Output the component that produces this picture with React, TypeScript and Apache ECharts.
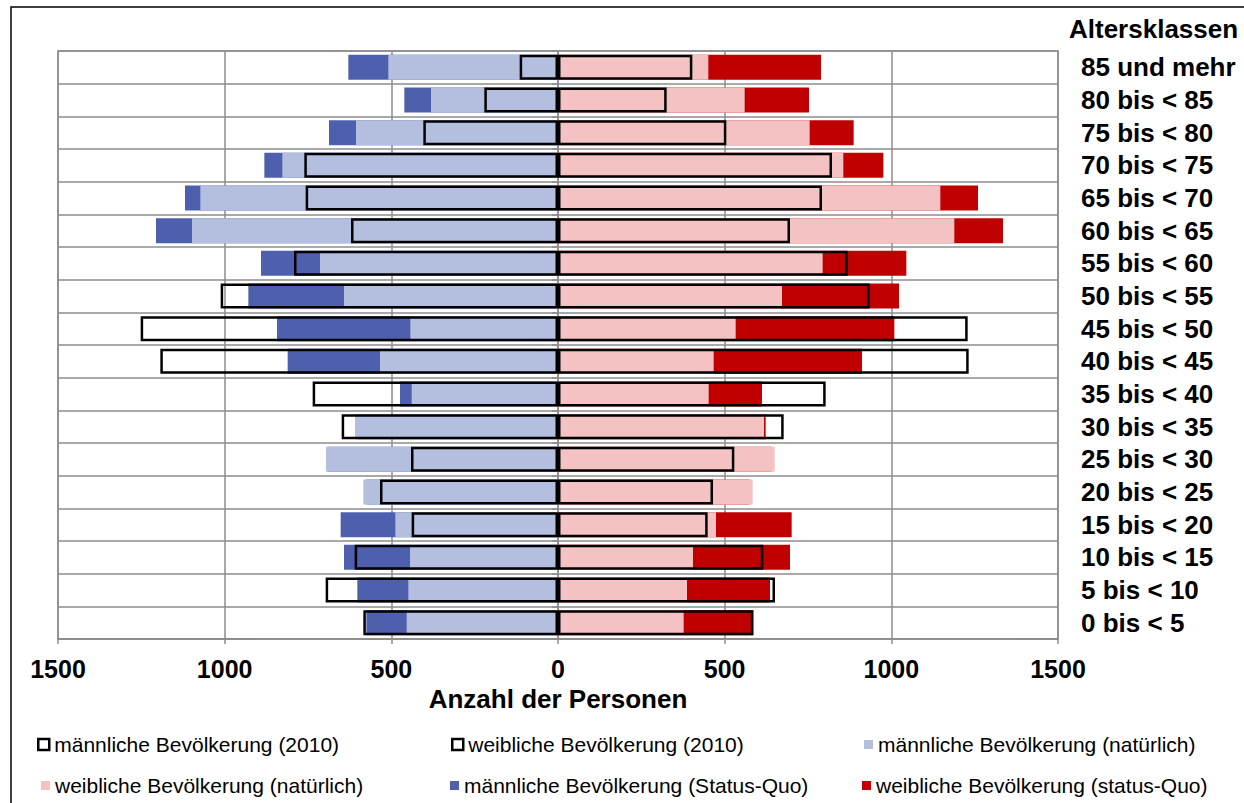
import React, { useEffect, useRef } from "react";
import * as echarts from "echarts";

const categories = [
  "0 bis < 5", "5 bis < 10", "10 bis < 15", "15 bis < 20", "20 bis < 25", "25 bis < 30",
  "30 bis < 35", "35 bis < 40", "40 bis < 45", "45 bis < 50", "50 bis < 55", "55 bis < 60",
  "60 bis < 65", "65 bis < 70", "70 bis < 75", "75 bis < 80", "80 bis < 85", "85 und mehr",
];
const male2010 = [584, 697, 610, 439, 534, 441, 649, 736, 1193, 1252, 1012, 792, 621, 757, 761, 404, 221, 115];
const maleNatural = [454, 449, 444, 488, 584, 696, 609, 439, 534, 443, 642, 714, 1098, 1073, 827, 606, 381, 509];
const maleStatusQuo = [575, 602, 642, 652, 575, 690, 600, 474, 811, 843, 929, 891, 1206, 1119, 881, 687, 461, 629];
const female2010 = [586, 651, 616, 449, 465, 529, 677, 803, 1232, 1229, 935, 869, 696, 792, 822, 505, 326, 403];
const femaleNatural = [377, 387, 405, 474, 584, 650, 618, 452, 467, 533, 672, 794, 1189, 1147, 856, 755, 560, 451];
const femaleStatusQuo = [586, 636, 696, 701, 575, 640, 623, 612, 912, 1009, 1023, 1045, 1335, 1260, 976, 887, 753, 789];
const xTicks = { min: -1500, max: 1500, interval: 500 };

const N_M2010 = "männliche Bevölkerung (2010)";
const N_F2010 = "weibliche Bevölkerung (2010)";
const N_MNAT = "männliche Bevölkerung (natürlich)";
const N_FNAT = "weibliche Bevölkerung (natürlich)";
const N_MSQ = "männliche Bevölkerung (Status-Quo)";
const N_FSQ = "weibliche Bevölkerung (status-Quo)";

const FONT = "'Liberation Sans', Arial, sans-serif";
const GRAY = "#8c8c8c";
const C_MNAT = "#b4bedf";
const C_MSQ = "#4e60ad";
const C_FNAT = "#f4c2c2";
const C_FSQ = "#c00000";

export default function App() {
  const ref = useRef<HTMLDivElement>(null);
  useEffect(() => {
    if (!ref.current) return;
    const chart = echarts.init(ref.current, undefined, { renderer: "svg" });
    const bar = (name: string, data: number[], style: any) => ({
      name,
      type: "bar",
      data,
      barWidth: 25,
      barGap: "-100%",
      itemStyle: style,
      emphasis: { disabled: true },
    });
    const neg = (arr: number[]) => arr.map((v) => -v);
    const outline = { color: "rgba(0,0,0,0)", borderColor: "#000", borderWidth: 2.5 };
    const legendItem = (name: string, left: number, top: number, hollow: boolean, color?: string) => ({
      show: true,
      selectedMode: false,
      left,
      top,
      padding: 0,
      itemWidth: hollow ? 11 : 9,
      itemHeight: hollow ? 11 : 9,
      itemGap: 0,
      textStyle: { fontFamily: FONT, fontSize: 21, color: "#000" },
      data: [
        {
          name,
          icon: "rect",
          itemStyle: hollow
            ? { color: "#fff", borderColor: "#000", borderWidth: 2.5 }
            : { color, borderWidth: 0 },
        },
      ],
    });
    chart.setOption({
      animation: false,
      backgroundColor: "#fff",
      title: {
        text: "Altersklassen",
        left: 1069,
        top: 16,
        padding: 0,
        textStyle: { fontFamily: FONT, fontSize: 26, fontWeight: "bold", color: "#000" },
      },
      graphic: [
        {
          type: "rect",
          shape: { x: 11, y: 7, width: 1400, height: 1000 },
          style: { fill: "none", stroke: "#000", lineWidth: 1.5 },
          silent: true,
          z: -1,
        },
      ],
      legend: [
        legendItem(N_M2010, 37, 734, true),
        legendItem(N_F2010, 451, 734, true),
        legendItem(N_MNAT, 864, 734, false, C_MNAT),
        legendItem(N_FNAT, 41, 775, false, C_FNAT),
        legendItem(N_MSQ, 450, 775, false, C_MSQ),
        legendItem(N_FSQ, 862, 775, false, C_FSQ),
      ],
      grid: {
        left: 58,
        right: 186,
        top: 51,
        bottom: 164,
        show: true,
        borderColor: GRAY,
        borderWidth: 1.5,
        containLabel: false,
      },
      xAxis: {
        type: "value",
        min: xTicks.min,
        max: xTicks.max,
        interval: xTicks.interval,
        axisLine: { show: true, lineStyle: { color: GRAY, width: 1.5 } },
        axisTick: { show: true, length: 5, lineStyle: { color: GRAY, width: 1.5 } },
        splitLine: { show: true, lineStyle: { color: GRAY, width: 1.5 } },
        axisLabel: {
          formatter: (v: number) => String(Math.abs(v)),
          fontFamily: FONT,
          fontSize: 25,
          fontWeight: "bold",
          color: "#000",
          margin: 17,
        },
        name: "Anzahl der Personen",
        nameLocation: "middle",
        nameGap: 46,
        nameTextStyle: { fontFamily: FONT, fontSize: 26, fontWeight: "bold", color: "#000" },
      },
      yAxis: [
        {
          type: "category",
          data: categories,
          position: "right",
          axisLine: { show: false },
          axisTick: { show: false, interval: 0 },
          splitLine: { show: true, interval: 0, lineStyle: { color: GRAY, width: 1.5 } },
          axisLabel: {
            interval: 0,
            fontFamily: FONT,
            fontSize: 26,
            fontWeight: "bold",
            color: "#000",
            margin: 23,
          },
        },
        {
          type: "category",
          data: categories,
          position: "left",
          offset: -500,
          axisLine: { show: true, onZero: false, lineStyle: { color: GRAY, width: 1.5 } },
          axisTick: { show: true, interval: 0, length: 6, lineStyle: { color: GRAY, width: 1.5 } },
          axisLabel: { show: false, interval: 0 },
          splitLine: { show: false },
        },
      ],
      series: [
        bar(N_MSQ, neg(maleStatusQuo), { color: C_MSQ }),
        bar(N_FSQ, femaleStatusQuo, { color: C_FSQ }),
        bar(N_MNAT, neg(maleNatural), { color: C_MNAT }),
        bar(N_FNAT, femaleNatural, { color: C_FNAT }),
        bar(N_M2010, neg(male2010), outline),
        bar(N_F2010, female2010, outline),
      ],
    });
    return () => chart.dispose();
  }, []);
  return (
    <div
      ref={ref}
      style={{ position: "absolute", left: 0, top: 0, width: 1244, height: 803 }}
    />
  );
}
